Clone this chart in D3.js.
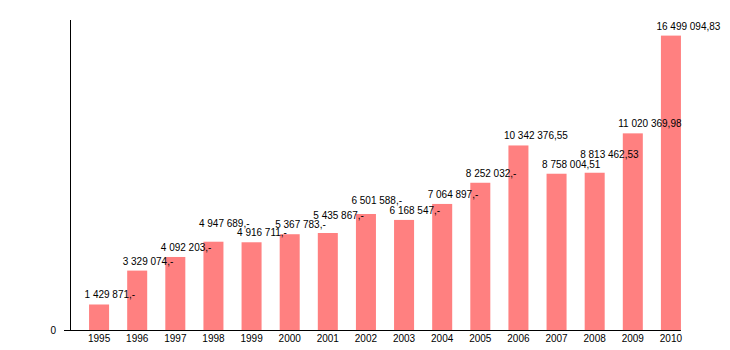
<!DOCTYPE html>
<html>
<head>
<meta charset="utf-8">
<script src="https://cdn.jsdelivr.net/npm/d3@7/dist/d3.min.js"></script>
<style>
  html, body { margin: 0; padding: 0; background: #fff; }
  svg text { font-family: "Liberation Sans", Arial, Helvetica, sans-serif; font-size: 10px; fill: #000; }
</style>
</head>
<body>
<svg id="chart" width="730" height="350"></svg>
<script>
// Yearly amounts
const years = ["1995","1996","1997","1998","1999","2000","2001","2002",
               "2003","2004","2005","2006","2007","2008","2009","2010"];
const amounts = [1429871, 3329074, 4092203, 4947689, 4916711, 5367783, 5435867, 6501588,
                 6168547, 7064897, 8252032, 10342376.55, 8758004.51, 8813462.53, 11020369.98, 16499094.83];
const amountLabels = ["1 429 871,-", "3 329 074,-", "4 092 203,-", "4 947 689,-", "4 916 711,-",
                      "5 367 783,-", "5 435 867,-", "6 501 588,-", "6 168 547,-", "7 064 897,-",
                      "8 252 032,-", "10 342 376,55", "8 758 004,51", "8 813 462,53", "11 020 369,98",
                      "16 499 094,83"];
const yTicks = [0];

const svg = d3.select("#chart");
const m = { left: 70, right: 700, top: 20, bottom: 330 };

const x = d3.scaleBand().domain(years).range([m.left, m.right])
  .paddingInner(0.475).paddingOuter(0.5);
const y = d3.scaleLinear().domain([0, d3.max(amounts) * 1.053]).range([m.bottom, m.top]);

const data = years.map((yr, i) => ({ yr, v: amounts[i], label: amountLabels[i] }));

// bars
svg.append("g").selectAll("rect").data(data).join("rect")
  .attr("x", d => x(d.yr))
  .attr("y", d => y(d.v))
  .attr("width", x.bandwidth())
  .attr("height", d => y(0) - y(d.v))
  .attr("fill", "#ff8080");

// value labels, sitting just above each bar
const labels = svg.append("g").selectAll("text").data(data).join("text")
  .attr("x", d => x(d.yr) - 4.5)
  .attr("text-anchor", "start")
  .text(d => d.label);

labels.each(function (d) {
  d.lx = x(d.yr) - 4.5;
  d.lw = this.getComputedTextLength();
  d.ly = y(d.v) - 6;
});
// when neighbouring labels run into each other at nearly the same height,
// lift the label of the taller bar by one line
for (let i = 1; i < data.length; i++) {
  const a = data[i - 1], b = data[i];
  if (a.lx + a.lw > b.lx && Math.abs(a.ly - b.ly) < 7) {
    if (b.v >= a.v) b.ly = Math.min(b.ly, a.ly - 9.5);
    else a.ly = Math.min(a.ly, b.ly - 9.5);
  }
}
labels.attr("y", d => d.ly);

// y axis
const yAxis = d3.axisLeft(y).tickValues(yTicks).tickSize(6).tickPadding(8).tickFormat(d3.format("d"));
const gy = svg.append("g").attr("transform", `translate(${m.left},0)`).call(yAxis);
gy.select(".domain").remove();
gy.selectAll(".tick line").remove();
gy.selectAll("text").attr("dy", "0.32em");
gy.attr("font-family", null).attr("font-size", null);
svg.append("line")
  .attr("x1", m.left + 0.5).attr("x2", m.left + 0.5)
  .attr("y1", m.top).attr("y2", m.bottom)
  .attr("stroke", "#000").attr("stroke-width", 1);

// x axis
const xAxis = d3.axisBottom(x).tickSize(0).tickPadding(5);
const gx = svg.append("g").attr("transform", `translate(0,${m.bottom})`).call(xAxis);
gx.select(".domain").remove();
gx.attr("font-family", null).attr("font-size", null);
svg.append("line")
  .attr("x1", m.left - 6).attr("x2", x(years[years.length - 1]) + x.bandwidth())
  .attr("y1", m.bottom + 0.5).attr("y2", m.bottom + 0.5)
  .attr("stroke", "#000").attr("stroke-width", 1);
</script>
</body>
</html>
